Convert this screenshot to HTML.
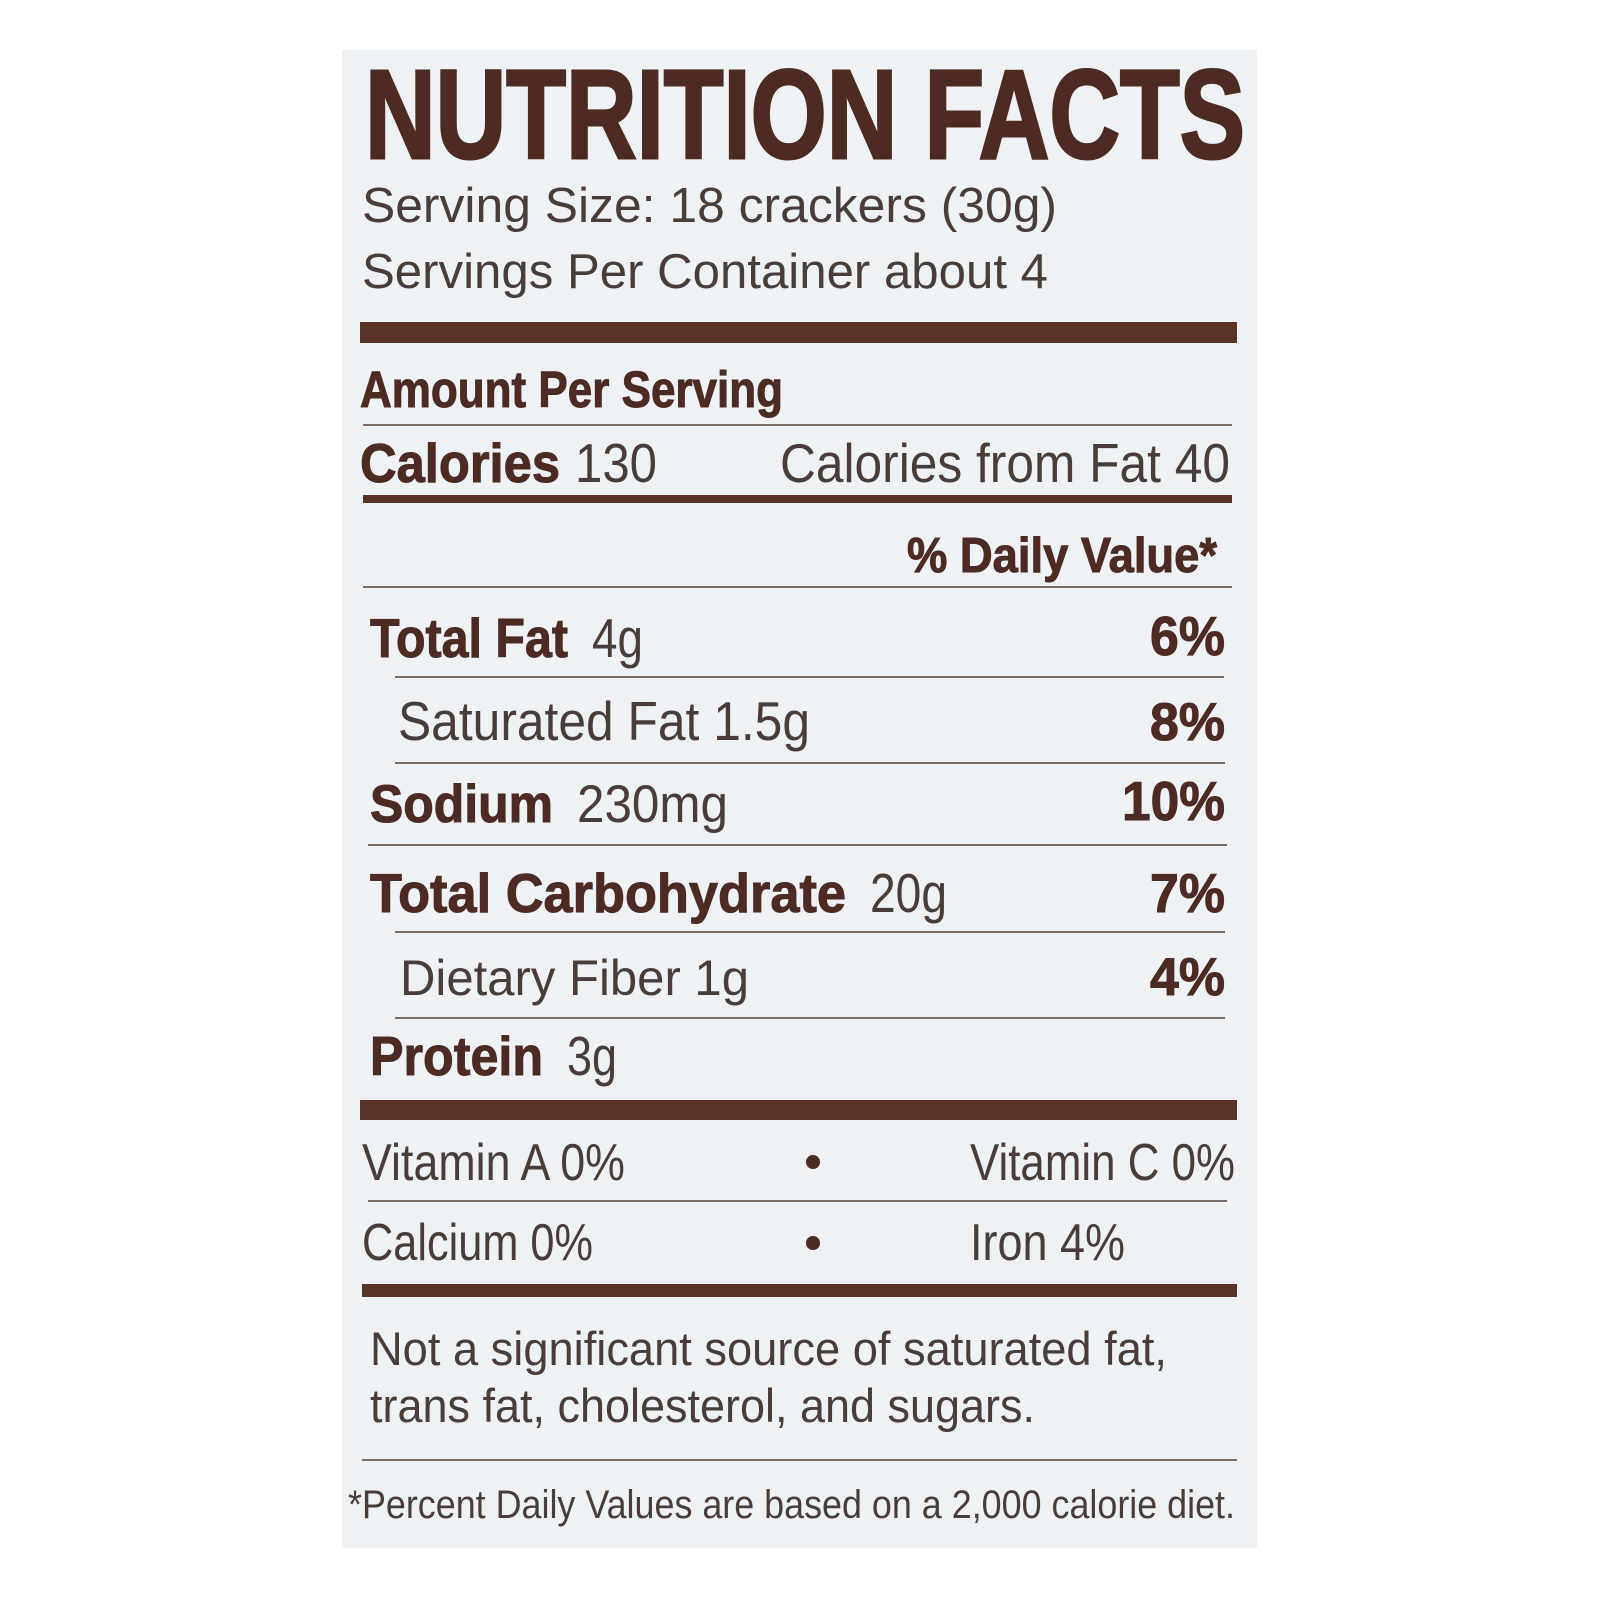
<!DOCTYPE html>
<html>
<head>
<meta charset="utf-8">
<style>
html,body{margin:0;padding:0;background:#ffffff;}
svg{display:block;}
text{font-family:"Liberation Sans", Arial, sans-serif;}
.b{font-weight:bold;fill:#4d2b22;}
.r{fill:#4a3d39;}
</style>
</head>
<body>
<svg width="1600" height="1600" viewBox="0 0 1600 1600" xmlns="http://www.w3.org/2000/svg">
  <rect x="0" y="0" width="1600" height="1600" fill="#ffffff"/>
  <rect x="342" y="50" width="915" height="1498" fill="#eef2f5"/>

  <!-- Title -->
  <text class="b" x="365" y="158" font-size="126" textLength="880" lengthAdjust="spacingAndGlyphs" stroke="#4d2b22" stroke-width="3">NUTRITION FACTS</text>

  <text class="r" x="362" y="222" font-size="49" textLength="695" lengthAdjust="spacingAndGlyphs">Serving Size: 18 crackers (30g)</text>
  <text class="r" x="362" y="288" font-size="49" textLength="686" lengthAdjust="spacingAndGlyphs">Servings Per Container about 4</text>

  <rect x="360" y="322" width="877" height="21" fill="#5a3328"/>

  <text class="b" x="360" y="407" font-size="51" textLength="423" lengthAdjust="spacingAndGlyphs" stroke="#4d2b22" stroke-width="1">Amount Per Serving</text>
  <rect x="363" y="424" width="869" height="2" fill="#7d6c62"/>

  <text class="b" x="360" y="482" font-size="55" textLength="200" lengthAdjust="spacingAndGlyphs" stroke="#4d2b22" stroke-width="1">Calories</text>
  <text class="r" x="575" y="482" font-size="55" textLength="82" lengthAdjust="spacingAndGlyphs">130</text>
  <text class="r" x="780" y="482" font-size="55" textLength="450" lengthAdjust="spacingAndGlyphs">Calories from Fat 40</text>
  <rect x="363" y="495" width="869" height="8" fill="#5a3328"/>

  <text class="b" x="907" y="572" font-size="49" textLength="310" lengthAdjust="spacingAndGlyphs" stroke="#4d2b22" stroke-width="1">% Daily Value*</text>
  <rect x="363" y="586" width="869" height="2" fill="#7d6c62"/>

  <text class="b" x="370" y="657" font-size="55" textLength="198" lengthAdjust="spacingAndGlyphs" stroke="#4d2b22" stroke-width="1">Total Fat</text>
  <text class="r" x="592" y="657" font-size="55" textLength="51" lengthAdjust="spacingAndGlyphs">4g</text>
  <text class="b" x="1150" y="655" font-size="55" textLength="75" lengthAdjust="spacingAndGlyphs" stroke="#4d2b22" stroke-width="1">6%</text>
  <rect x="395" y="676" width="829" height="2" fill="#7d6c62"/>

  <text class="r" x="398" y="740" font-size="55" textLength="412" lengthAdjust="spacingAndGlyphs">Saturated Fat 1.5g</text>
  <text class="b" x="1150" y="740" font-size="53" textLength="75" lengthAdjust="spacingAndGlyphs" stroke="#4d2b22" stroke-width="1">8%</text>
  <rect x="395" y="762" width="830" height="2" fill="#7d6c62"/>

  <text class="b" x="370" y="822" font-size="53" textLength="183" lengthAdjust="spacingAndGlyphs" stroke="#4d2b22" stroke-width="1">Sodium</text>
  <text class="r" x="577" y="822" font-size="53" textLength="151" lengthAdjust="spacingAndGlyphs">230mg</text>
  <text class="b" x="1122" y="820" font-size="55" textLength="103" lengthAdjust="spacingAndGlyphs" stroke="#4d2b22" stroke-width="1">10%</text>
  <rect x="368" y="844" width="859" height="2" fill="#7d6c62"/>

  <text class="b" x="370" y="912" font-size="55" textLength="476" lengthAdjust="spacingAndGlyphs" stroke="#4d2b22" stroke-width="1">Total Carbohydrate</text>
  <text class="r" x="870" y="912" font-size="55" textLength="77" lengthAdjust="spacingAndGlyphs">20g</text>
  <text class="b" x="1150" y="912" font-size="55" textLength="75" lengthAdjust="spacingAndGlyphs" stroke="#4d2b22" stroke-width="1">7%</text>
  <rect x="395" y="931" width="830" height="2" fill="#7d6c62"/>

  <text class="r" x="400" y="995" font-size="50" textLength="349" lengthAdjust="spacingAndGlyphs">Dietary Fiber 1g</text>
  <text class="b" x="1150" y="995" font-size="53" textLength="75" lengthAdjust="spacingAndGlyphs" stroke="#4d2b22" stroke-width="1">4%</text>
  <rect x="395" y="1017" width="830" height="2" fill="#7d6c62"/>

  <text class="b" x="370" y="1075" font-size="55" textLength="173" lengthAdjust="spacingAndGlyphs" stroke="#4d2b22" stroke-width="1">Protein</text>
  <text class="r" x="567" y="1075" font-size="55" textLength="50" lengthAdjust="spacingAndGlyphs">3g</text>

  <rect x="360" y="1100" width="877" height="20" fill="#5a3328"/>

  <text class="r" x="362" y="1180" font-size="52" textLength="263" lengthAdjust="spacingAndGlyphs">Vitamin A 0%</text>
  <circle cx="813" cy="1162" r="7" fill="#4d2b22"/>
  <text class="r" x="970" y="1180" font-size="52" textLength="265" lengthAdjust="spacingAndGlyphs">Vitamin C 0%</text>
  <rect x="368" y="1200" width="859" height="2" fill="#7d6c62"/>

  <text class="r" x="362" y="1260" font-size="52" textLength="231" lengthAdjust="spacingAndGlyphs">Calcium 0%</text>
  <circle cx="813" cy="1243" r="7" fill="#4d2b22"/>
  <text class="r" x="970" y="1260" font-size="52" textLength="155" lengthAdjust="spacingAndGlyphs">Iron 4%</text>

  <rect x="362" y="1284" width="875" height="13" fill="#5a3328"/>

  <text class="r" x="370" y="1365" font-size="47" textLength="797" lengthAdjust="spacingAndGlyphs">Not a significant source of saturated fat,</text>
  <text class="r" x="370" y="1422" font-size="47" textLength="665" lengthAdjust="spacingAndGlyphs">trans fat, cholesterol, and sugars.</text>
  <rect x="362" y="1459" width="875" height="2" fill="#7d6c62"/>

  <text class="r" x="348" y="1518" font-size="40" textLength="887" lengthAdjust="spacingAndGlyphs">*Percent Daily Values are based on a 2,000 calorie diet.</text>
</svg>
</body>
</html>
